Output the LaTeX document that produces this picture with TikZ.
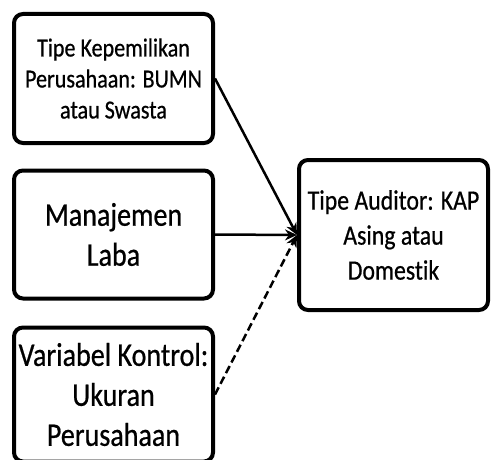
\documentclass[tikz,border=0pt]{standalone}
\usepackage{fontspec}
\setmainfont[FakeStretch=0.85, FakeBold=0.6, Ligatures=NoCommon]{Carlito}
\usetikzlibrary{arrows.meta, positioning}

\begin{document}
\begin{tikzpicture}[
  x=1pt, y=1pt,
  node distance=23.5pt,
  kotak/.style={rectangle, rounded corners=9pt, draw, line width=4pt,
                fill=white, align=center, inner sep=0pt,
                minimum width=199pt},
  kecil/.style={font=\fontsize{26}{31}\selectfont},
  besar/.style={font=\fontsize{33}{40}\selectfont},
  sedang/.style={font=\fontsize{28}{35}\selectfont},
  panah/.style={-{Stealth[length=12pt, width=11pt]}, line width=2.5pt}
]
\useasboundingbox (0,0) rectangle (495,459);

% Variabel di kiri
\node[kotak, kecil, minimum height=129pt] (kepemilikan) at (113.5,380.5)
  {Tipe Kepemilikan\\Perusahaan: BUMN\\atau Swasta};
\node[kotak, besar, minimum height=128pt, below=of kepemilikan] (laba)
  {Manajemen\\Laba};
\node[kotak, besar, minimum height=134pt, below=25pt of laba] (kontrol)
  {Variabel Kontrol:\\Ukuran\\Perusahaan};

% Variabel dependen
\node[kotak, sedang, minimum width=189pt, minimum height=150pt] (auditor) at (393.5,224)
  {Tipe Auditor: KAP\\Asing atau\\Domestik};

% Panah
\draw[panah]         (kepemilikan.east) -- (auditor.west);
\draw[panah]         (laba.east) -- (auditor.west);
\draw[panah, dash pattern=on 8pt off 4pt] (kontrol.east) -- (auditor.west);

\end{tikzpicture}
\end{document}
